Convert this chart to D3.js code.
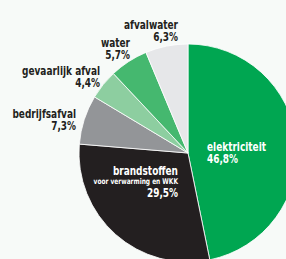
<!DOCTYPE html>
<html>
<head>
<meta charset="utf-8">
<script src="https://cdn.jsdelivr.net/npm/d3@7"></script>
<style>
  body { margin: 0; background: #f7faf8; }
  svg { display: block; }
  text { font-family: "DejaVu Sans Condensed", "DejaVu Sans", sans-serif; font-weight: bold; }
</style>
</head>
<body>
<div id="chart"></div>
<script>
document.addEventListener("DOMContentLoaded", function() {
    // share per source, clockwise from 12 o'clock
    const categories = ["elektriciteit", "brandstoffen", "bedrijfsafval", "gevaarlijk afval", "water", "afvalwater"];
    const values = [46.8, 29.5, 7.3, 4.4, 5.7, 6.3];
    const subLabels = ["", "voor verwarming en WKK", "", "", "", ""];
    const colors = ["#00a651", "#231f20", "#939598", "#8dcea0", "#45b86f", "#e6e7e9"];

    const width = 286, height = 259;
    const cx = 188, cy = 153, radius = 109;

    const svg = d3.select("#chart")
        .append("svg")
        .attr("width", width)
        .attr("height", height);

    const g = svg.append("g")
        .attr("transform", `translate(${cx},${cy})`);

    const pie = d3.pie().sort(null).value(d => d)(values);
    const arc = d3.arc().innerRadius(0).outerRadius(radius);

    g.selectAll("path")
        .data(pie)
        .enter()
        .append("path")
        .attr("d", arc)
        .attr("fill", (d, i) => colors[i])
        .attr("stroke", "#fff")
        .attr("stroke-width", 0.8);

    const fmt = v => v.toFixed(1).replace(".", ",") + "%";

    // label anchors relative to the pie centre
    const labelPos = [
        { x: 19, y: -2, anchor: "start", fill: "#fff" },
        { x: -10, y: 22, anchor: "end", fill: "#fff" },
        { x: -112, y: -35, anchor: "end", fill: "#231f20" },
        { x: -88, y: -78, anchor: "end", fill: "#231f20" },
        { x: -58, y: -106, anchor: "end", fill: "#231f20" },
        { x: -10, y: -124, anchor: "end", fill: "#231f20" }
    ];

    // one text per slice, lines as tspans; squeezed to look like the condensed original face
    const labels = g.selectAll("text.label")
        .data(pie)
        .enter()
        .append("text")
        .attr("class", "label")
        .attr("transform", (d, i) => `translate(${labelPos[i].x},${labelPos[i].y}) scale(0.83,1)`)
        .attr("text-anchor", (d, i) => labelPos[i].anchor)
        .attr("fill", (d, i) => labelPos[i].fill)
        .attr("font-size", 12);

    labels.append("tspan")
        .attr("x", 0)
        .text((d, i) => categories[i]);

    labels.filter((d, i) => subLabels[i] !== "")
        .append("tspan")
        .attr("x", 0)
        .attr("dy", 9)
        .attr("font-size", 7.9)
        .text(d => subLabels[d.index]);

    labels.append("tspan")
        .attr("x", 0)
        .attr("dy", (d, i) => subLabels[i] ? 13 : 12)
        .text(d => fmt(d.data));
});
</script>
</body>
</html>
